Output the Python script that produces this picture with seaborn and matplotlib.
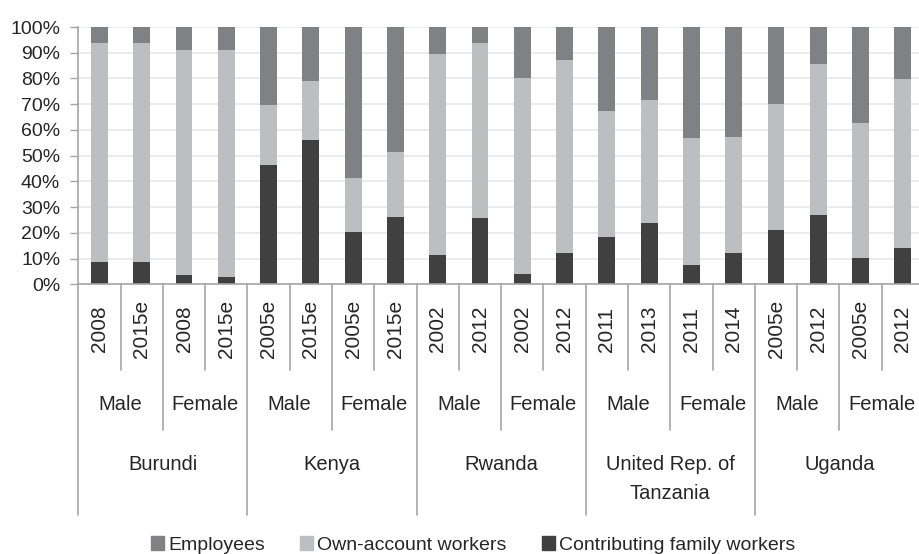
import matplotlib
matplotlib.use("Agg")
import matplotlib.pyplot as plt
import matplotlib.transforms as mtransforms
import numpy as np
import pandas as pd
import seaborn as sns

sns.set_style("white")
plt.rcParams["font.family"] = ["Liberation Sans", "DejaVu Sans"]

# chart data (shares in %)
countries = ["Burundi", "Kenya", "Rwanda", "United Rep. of\nTanzania", "Uganda"]
sexes = ["Male", "Female"]
years = ["2008", "2015e", "2008", "2015e",
         "2005e", "2015e", "2005e", "2015e",
         "2002", "2012", "2002", "2012",
         "2011", "2013", "2011", "2014",
         "2005e", "2012", "2005e", "2012"]
family_workers = [8.8, 8.8, 3.5, 2.8, 46.4, 55.9, 20.3, 26.3, 11.5, 25.6,
                  4.0, 12.2, 18.2, 23.7, 7.5, 12.2, 21.0, 26.9, 10.3, 14.2]
own_account = [85.0, 85.0, 87.4, 88.1, 23.1, 23.0, 21.0, 25.1, 78.1, 68.2,
               76.2, 74.9, 49.3, 47.8, 49.3, 45.2, 49.1, 58.7, 52.4, 65.5]
employees = [6.2, 6.2, 9.1, 9.1, 30.5, 21.1, 58.7, 48.6, 10.4, 6.2,
             19.8, 12.9, 32.5, 28.5, 43.2, 42.6, 29.9, 14.4, 37.3, 20.3]

COL_EMP = "#808185"
COL_OWN = "#bdbec2"
COL_FAM = "#404040"
LINE = "#a6a6a6"
W, H = 920, 554

df = pd.DataFrame({
    "pos": np.arange(len(years)),
    "fam": family_workers,
    "own": own_account,
    "emp": employees,
})
df["fam_own"] = df["fam"] + df["own"]
df["total"] = df["fam_own"] + df["emp"]

fig = plt.figure(figsize=(W / 100, H / 100), dpi=100)
ax = fig.add_axes([78.3 / W, 1 - 284.3 / H, (924 - 78.3) / W, (284.3 - 27) / H])

# stacked bars: draw cumulative totals back to front
for col, color in [("total", COL_EMP), ("fam_own", COL_OWN), ("fam", COL_FAM)]:
    sns.barplot(data=df, x="pos", y=col, color=color, width=0.4,
                saturation=1, edgecolor="none", ax=ax, zorder=2)

ax.set_ylim(0, 100)
ax.set_xlim(-0.5, len(years) - 0.5)
ax.set_yticks(np.arange(0, 101, 10))
ax.set_yticklabels([f"{v}%" for v in range(0, 101, 10)], fontsize=14)
ax.yaxis.grid(True, color="#e8e8e8", linewidth=1.2, zorder=0)
ax.set_axisbelow(True)
ax.tick_params(axis="y", length=6, width=1, color=LINE, pad=7, left=True)
ax.set_xticks([])
ax.set_xlabel("")
ax.set_ylabel("")
for s in ["top", "right"]:
    ax.spines[s].set_visible(False)
for s in ["left", "bottom"]:
    ax.spines[s].set_color(LINE)
    ax.spines[s].set_linewidth(1.2)

# multi-level category axis
trans = mtransforms.blended_transform_factory(ax.transData, fig.transFigure)
y_axis = 1 - 284.3 / H
for b in range(len(years) + 1):
    x = b - 0.5
    if b % 4 == 0:
        yend = 515
    elif b % 2 == 0:
        yend = 430
    else:
        yend = 370
    ax.plot([x, x], [y_axis, 1 - yend / H], color=LINE, lw=1.2,
            transform=trans, clip_on=False)

for i, yr in enumerate(years):
    ax.text(i, 1 - 329 / H, yr, rotation=90, ha="center", va="center",
            fontsize=15, transform=trans)
for g in range(len(years) // 2):
    ax.text(2 * g + 0.5, 1 - 404 / H, sexes[g % 2], ha="center", va="center",
            fontsize=14.5, transform=trans)
for c, name in enumerate(countries):
    ax.text(4 * c + 1.5, 1 - 455 / H, name, ha="center", va="top",
            fontsize=14.5, linespacing=1.65, transform=trans)

handles = [plt.Rectangle((0, 0), 1, 1, color=c) for c in (COL_EMP, COL_OWN, COL_FAM)]
fig.legend(handles, ["Employees", "Own-account workers", "Contributing family workers"],
           loc="center", bbox_to_anchor=(473 / W, 1 - 545 / H), ncol=3,
           frameon=False, fontsize=14, handlelength=0.7, handleheight=0.7,
           handletextpad=0.2, columnspacing=1.8, borderpad=0)

fig.savefig("out.png", dpi=100)
